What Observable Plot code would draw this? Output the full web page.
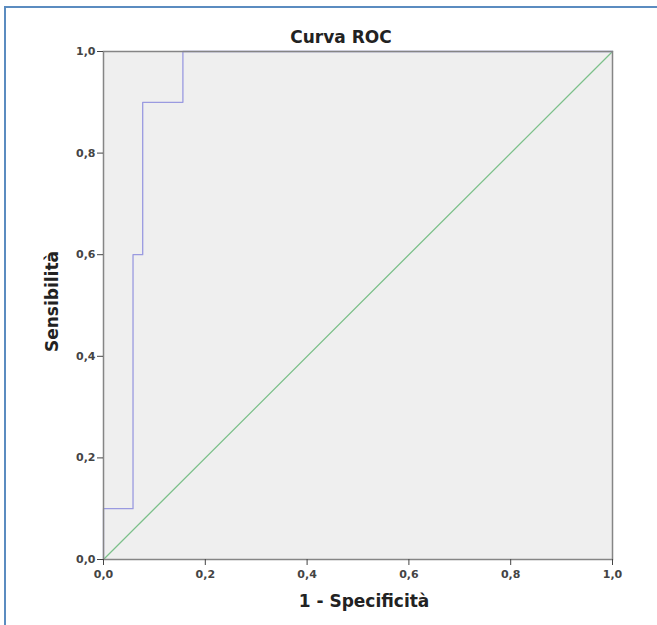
<!DOCTYPE html>
<html><head><meta charset="utf-8">
<script src="https://cdn.jsdelivr.net/npm/d3@7"></script>
<script src="https://cdn.jsdelivr.net/npm/@observablehq/plot@0.6"></script>
<style>
body{margin:0;background:#fff;}
#wrap{position:relative;width:657px;height:625px;overflow:hidden;}
#frame{position:absolute;left:4px;top:6px;width:700px;height:700px;border-left:2px solid #5b8cc0;border-top:2px solid #5b8cc0;pointer-events:none;}
#chart{position:absolute;left:0;top:0;}
</style></head><body><div id="wrap"><div id="chart"></div><div id="frame"></div></div>
<script>
const rocFpr = [0, 0, 0.058, 0.058, 0.077, 0.077, 0.156, 0.156, 1];
const rocTpr = [0, 0.1, 0.1, 0.6, 0.6, 0.9, 0.9, 1, 1];
const refFpr = [0, 1];
const refTpr = [0, 1];
const tickValues = [0, 0.2, 0.4, 0.6, 0.8, 1];
const tickLabels = ["0,0", "0,2", "0,4", "0,6", "0,8", "1,0"];
const title = "Curva ROC";
const xLabel = "1 - Specificità";
const yLabel = "Sensibilità";

const roc = rocFpr.map((x, i) => ({x, y: rocTpr[i]}));
const ref = refFpr.map((x, i) => ({x, y: refTpr[i]}));
const fmt = d => tickLabels[tickValues.indexOf(d)];

const chart = Plot.plot({
  width: 657, height: 625,
  marginLeft: 103, marginRight: 45, marginTop: 51, marginBottom: 66,
  x: {domain: [0, 1]},
  y: {domain: [0, 1]},
  style: {fontFamily: "DejaVu Sans", fontWeight: "bold", background: "transparent"},
  marks: [
    Plot.frame({fill: "#efefef", stroke: null}),
    Plot.line(ref, {x: "x", y: "y", stroke: "#7cc08a", strokeWidth: 1.3}),
    Plot.line(roc, {x: "x", y: "y", stroke: "#9a9ae0", strokeWidth: 1.3}),
    Plot.frame({stroke: "#858585", strokeWidth: 1.5}),
    Plot.axisX({ticks: tickValues, tickFormat: fmt, tickSize: 6, tickPadding: 5, fontSize: 11, fontWeight: "bold", label: null, color: "#444"}),
    Plot.axisY({ticks: tickValues, tickFormat: fmt, tickSize: 6, tickPadding: 2, fontSize: 11, fontWeight: "bold", label: null, color: "#444"}),
    Plot.text([title], {frameAnchor: "top", lineAnchor: "middle", dy: -14, dx: -17, fontSize: 17, fontWeight: "bold", fill: "#222"}),
    Plot.text([xLabel], {frameAnchor: "bottom", dy: 47, dx: 6, fontSize: 17, fontWeight: "bold", fill: "#222"}),
    Plot.text([yLabel], {frameAnchor: "left", textAnchor: "middle", dx: -51, dy: -4, rotate: -90, fontSize: 17, fontWeight: "bold", fill: "#222"})
  ]
});
document.getElementById("chart").append(chart);
</script></body></html>
